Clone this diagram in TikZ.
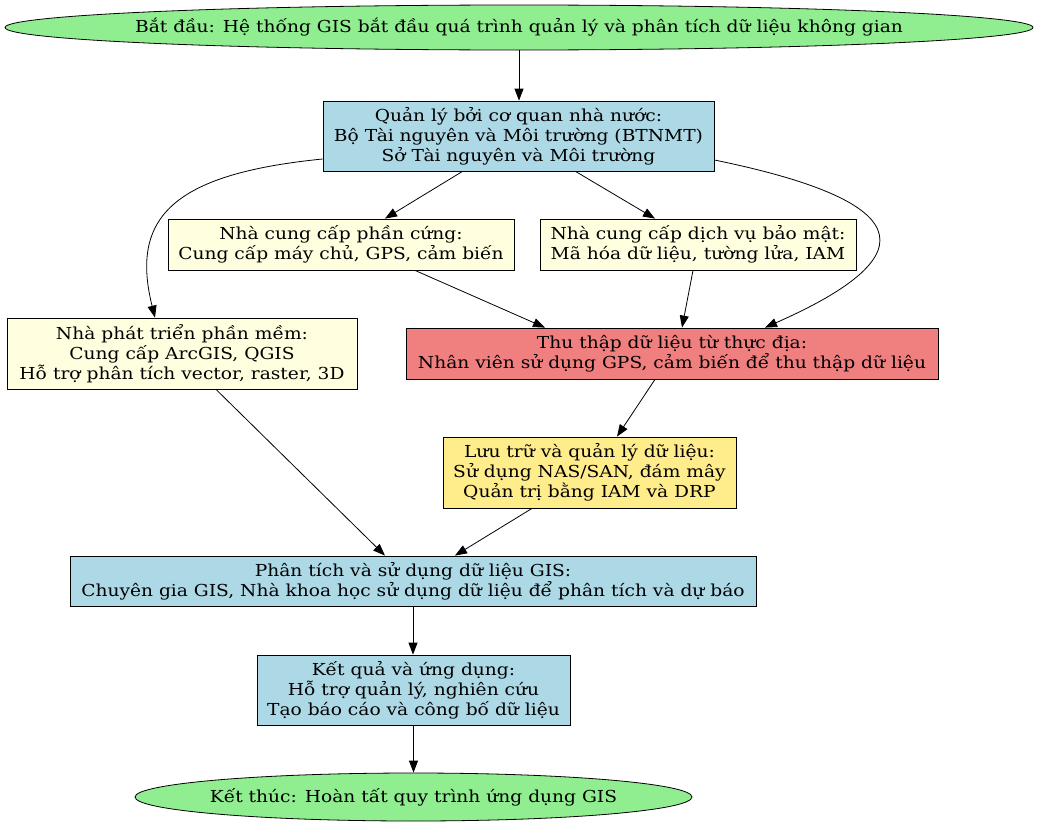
\documentclass[tikz,border=0pt]{standalone}
\usepackage{fontspec}
\setmainfont{DejaVu Serif}[FakeStretch=1.13]
\usetikzlibrary{shapes.geometric,arrows.meta}

\definecolor{termgreen}{HTML}{90EE90}
\definecolor{boxblue}{HTML}{ADD8E6}
\definecolor{boxyellow}{HTML}{FFFFE0}
\definecolor{boxred}{HTML}{F08080}
\definecolor{boxgold}{HTML}{FFEC8B}

% zero-width label so the ellipse keeps its given size
\newcommand{\flatlabel}[1]{\makebox[0pt][c]{#1}}

\tikzset{
  base/.style={draw=black, line width=0.8pt, align=center, inner sep=0pt,
               font=\fontsize{16.5}{20}\selectfont},
  terminal/.style={base, ellipse, fill=termgreen},
  stepbox/.style={base, rectangle},
  edge/.style={line width=0.8pt, -{Triangle[length=12pt,width=9pt]}}
}

\begin{document}
\begin{tikzpicture}[x=1pt,y=-1pt]
\useasboundingbox (0,0) rectangle (1038,827);

% process stages
\node[terminal, minimum width=1028, minimum height=45] (start) at (519,27.5)
  {\flatlabel{Bắt đầu: Hệ thống GIS bắt đầu quá trình quản lý và phân tích dữ liệu không gian}};
\node[stepbox, fill=boxblue, minimum width=391, minimum height=70] (gov) at (518.5,136)
  {Quản lý bởi cơ quan nhà nước:\\Bộ Tài nguyên và Môi trường (BTNMT)\\Sở Tài nguyên và Môi trường};
\node[stepbox, fill=boxyellow, minimum width=346, minimum height=51] (hw) at (341,244.5)
  {Nhà cung cấp phần cứng:\\Cung cấp máy chủ, GPS, cảm biến};
\node[stepbox, fill=boxyellow, minimum width=316, minimum height=51] (sec) at (698,244.5)
  {Nhà cung cấp dịch vụ bảo mật:\\Mã hóa dữ liệu, tường lửa, IAM};
\node[stepbox, fill=boxyellow, minimum width=350, minimum height=71] (sw) at (182,353.5)
  {Nhà phát triển phần mềm:\\Cung cấp ArcGIS, QGIS\\Hỗ trợ phân tích vector, raster, 3D};
\node[stepbox, fill=boxred, minimum width=532, minimum height=51] (field) at (672,353.5)
  {Thu thập dữ liệu từ thực địa:\\Nhân viên sử dụng GPS, cảm biến để thu thập dữ liệu};
\node[stepbox, fill=boxgold, minimum width=293, minimum height=71] (store) at (589.5,472.5)
  {Lưu trữ và quản lý dữ liệu:\\Sử dụng NAS/SAN, đám mây\\Quản trị bằng IAM và DRP};
\node[stepbox, fill=boxblue, minimum width=686, minimum height=50] (analysis) at (413,581)
  {Phân tích và sử dụng dữ liệu GIS:\\Chuyên gia GIS, Nhà khoa học sử dụng dữ liệu để phân tích và dự báo};
\node[stepbox, fill=boxblue, minimum width=313, minimum height=70] (result) at (413.5,690)
  {Kết quả và ứng dụng:\\Hỗ trợ quản lý, nghiên cứu\\Tạo báo cáo và công bố dữ liệu};
\node[terminal, minimum width=557, minimum height=48] (end) at (413.5,797)
  {\flatlabel{Kết thúc: Hoàn tất quy trình ứng dụng GIS}};

% connectors
\draw[edge] (start.south) -- (start.south |- gov.north);
\draw[edge] ([xshift=-56pt]gov.south) -- ([xshift=44pt]hw.north);
\draw[edge] ([xshift=57pt]gov.south) -- ([xshift=-43pt]sec.north);
\draw[edge] ([yshift=-23pt]gov.west) .. controls +(-150,15) and +(-25,-100) .. ([xshift=-27pt]sw.north);
\draw[edge] ([yshift=-24pt]gov.east) .. controls +(195,40) and +(170,-75) .. ([xshift=93pt]field.north);
\draw[edge] ([xshift=74pt]hw.south) -- ([xshift=-127pt]field.north);
\draw[edge] ([xshift=-5pt]sec.south) -- ([xshift=10pt]field.north);
\draw[edge] ([xshift=-17pt]field.south) -- ([xshift=27.5pt]store.north);
\draw[edge] ([xshift=34pt]sw.south) -- ([xshift=-28pt]analysis.north);
\draw[edge] ([xshift=-57.5pt]store.south) -- ([xshift=42pt]analysis.north);
\draw[edge] (analysis.south) -- (analysis.south |- result.north);
\draw[edge] (result.south) -- (result.south |- end.north);
\end{tikzpicture}
\end{document}
